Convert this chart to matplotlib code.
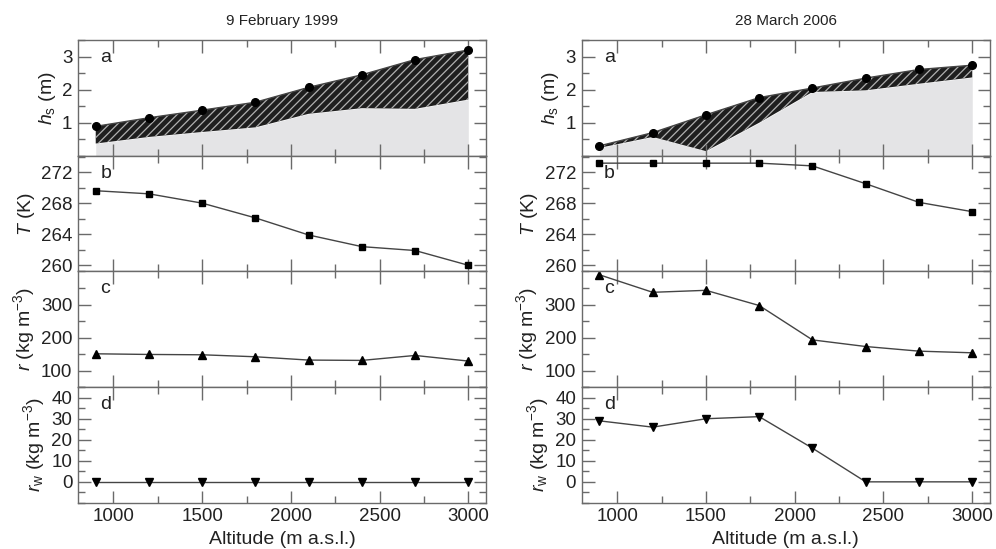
#!/usr/bin/env python3

import matplotlib
matplotlib.use('Agg')
import matplotlib.pyplot as plt
from matplotlib.ticker import MultipleLocator

plt.rcParams['font.family'] = ['Liberation Sans', 'DejaVu Sans']
plt.rcParams['mathtext.fontset'] = 'custom'
plt.rcParams['mathtext.rm'] = 'Liberation Sans'
plt.rcParams['mathtext.it'] = 'Liberation Sans:italic'
plt.rcParams['hatch.linewidth'] = 0.9

ALTITUDE = [900, 1200, 1500, 1800, 2100, 2400, 2700, 3000]

# 9 February 1999
HS_TOP_1999 = [0.89, 1.15, 1.38, 1.62, 2.07, 2.45, 2.91, 3.20]
HS_BASE_1999 = [0.37, 0.57, 0.72, 0.86, 1.27, 1.44, 1.42, 1.70]
T_1999 = [269.6, 269.2, 268.0, 266.1, 263.9, 262.4, 261.9, 260.0]
RHO_1999 = [151, 149, 148, 142, 132, 131, 146, 129]
RHOW_1999 = [0, 0, 0, 0, 0, 0, 0, 0]

# 28 March 2006
HS_TOP_2006 = [0.30, 0.70, 1.24, 1.76, 2.05, 2.35, 2.61, 2.74]
HS_BASE_2006 = [0.24, 0.57, 0.14, 1.00, 1.93, 1.98, 2.18, 2.37]
T_2006 = [273.15, 273.15, 273.15, 273.15, 272.8, 270.5, 268.1, 266.9]
RHO_2006 = [390, 337, 343, 297, 193, 173, 159, 154]
RHOW_2006 = [29, 26, 30, 31, 16, 0, 0, 0]

TITLES = ['9 February 1999', '28 March 2006']
YLABELS = ['$h_\\mathrm{s}$ (m)', '$T$ (K)', '$r$ (kg m$^{-3}$)',
           '$r_\\mathrm{w}$ (kg m$^{-3}$)']
LETTERS = ['a', 'b', 'c', 'd']

SPINE = '#6a6a6a'
LINE = '#444444'
TEXT = '#222222'


def style_axes(ax):
    for s in ax.spines.values():
        s.set_color(SPINE)
        s.set_linewidth(1.0)
    ax.tick_params(which='both', direction='in', top=True, right=True,
                   color=SPINE, labelcolor=TEXT, labelsize=13.5, pad=4)
    ax.tick_params(which='major', length=9, width=1.0)
    ax.tick_params(which='minor', length=5, width=1.0)
    ax.set_xlim(800, 3100)
    ax.xaxis.set_major_locator(MultipleLocator(500))
    ax.xaxis.set_minor_locator(MultipleLocator(250))


def plot_column(fig, axes, title, hs_top, hs_base, temp, rho, rhow):
    ax_a, ax_b, ax_c, ax_d = axes

    ax_a.fill_between(ALTITUDE, 0, hs_base, color='#e4e4e6', lw=0)
    ax_a.fill_between(ALTITUDE, hs_base, hs_top, facecolor='#1e1e1e',
                      edgecolor='#b0b0b0', hatch='////', lw=0)
    ax_a.plot(ALTITUDE, hs_top, color=LINE, lw=1, marker='o', ms=5.5,
              mfc='black', mec='black')
    ax_a.set_ylim(0, 3.5)
    ax_a.yaxis.set_major_locator(MultipleLocator(1))
    ax_a.yaxis.set_minor_locator(MultipleLocator(0.5))
    ax_a.set_yticks([1, 2, 3])

    ax_b.plot(ALTITUDE, temp, color=LINE, lw=1, marker='s', ms=5,
              mfc='black', mec='black', clip_on=False)
    ax_b.set_ylim(259.2, 274.1)
    ax_b.yaxis.set_major_locator(MultipleLocator(4))
    ax_b.yaxis.set_minor_locator(MultipleLocator(2))

    ax_c.plot(ALTITUDE, rho, color=LINE, lw=1, marker='^', ms=5.5,
              mfc='black', mec='black', clip_on=False)
    ax_c.set_ylim(50, 400)
    ax_c.set_yticks([100, 200, 300])
    ax_c.yaxis.set_minor_locator(MultipleLocator(50))

    ax_d.plot(ALTITUDE, rhow, color=LINE, lw=1, marker='v', ms=5.5,
              mfc='black', mec='black')
    ax_d.set_ylim(-10, 45)
    ax_d.set_yticks([0, 10, 20, 30, 40])
    ax_d.yaxis.set_minor_locator(MultipleLocator(5))

    for ax, letter, ylabel in zip(axes, LETTERS, YLABELS):
        style_axes(ax)
        ax.text(0.055, 0.85, letter, transform=ax.transAxes, ha='left',
                va='center', fontsize=14, color=TEXT)
        ax.set_ylabel(ylabel, fontsize=14, color=TEXT, labelpad=3)
        if ax is not ax_d:
            ax.tick_params(labelbottom=False)

    ax_a.set_title(title, fontsize=11, color=TEXT, pad=11)
    ax_d.set_xlabel('Altitude (m a.s.l.)', fontsize=14, color=TEXT, labelpad=4)


def main():
    fig = plt.figure(figsize=(9.96, 5.49), dpi=100)
    gs_left = fig.add_gridspec(4, 1, left=0.0783, right=0.488, top=0.927,
                               bottom=0.084, hspace=0)
    gs_right = fig.add_gridspec(4, 1, left=0.584, right=0.994, top=0.927,
                                bottom=0.084, hspace=0)
    left_axes = [fig.add_subplot(gs_left[i]) for i in range(4)]
    right_axes = [fig.add_subplot(gs_right[i]) for i in range(4)]

    plot_column(fig, left_axes, TITLES[0], HS_TOP_1999, HS_BASE_1999,
                T_1999, RHO_1999, RHOW_1999)
    plot_column(fig, right_axes, TITLES[1], HS_TOP_2006, HS_BASE_2006,
                T_2006, RHO_2006, RHOW_2006)

    fig.savefig('out.png', dpi=100)
    plt.close(fig)


if __name__ == "__main__":
    main()
